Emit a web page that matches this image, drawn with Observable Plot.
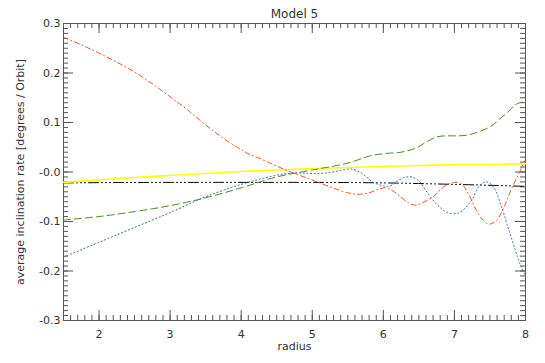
<!DOCTYPE html>
<html>
<head>
<meta charset="utf-8">
<script src="https://cdn.jsdelivr.net/npm/d3@7"></script>
<script src="https://cdn.jsdelivr.net/npm/@observablehq/plot@0.6"></script>
<style>
  body { margin: 0; background: #fff; }
  svg { font-family: "DejaVu Sans", sans-serif; }
</style>
</head>
<body>
<div id="chart"></div>
<script>
// --- data ---
const titleText = "Model 5";
const xLabel = "radius";
const yLabel = "average inclination rate [degrees / Orbit]";
const xTicks = [2, 3, 4, 5, 6, 7, 8];
const yTicks = [-0.3, -0.2, -0.1, 0, 0.1, 0.2, 0.3];
const yTickLabels = ["-0.3", "-0.2", "-0.1", "-0.0", "0.1", "0.2", "0.3"];

const redR = [1.5,1.75,2.0,2.25,2.5,2.75,3.0,3.25,3.5,3.75,4.0,4.1,4.25,4.5,4.75,5.0,5.25,5.5,5.65,5.8,5.95,6.05,6.2,6.35,6.45,6.55,6.7,6.85,7.0,7.1,7.2,7.3,7.4,7.48,7.58,7.7,7.8,7.9,8.0];
const redV = [0.272,0.257,0.24,0.222,0.202,0.178,0.152,0.125,0.095,0.068,0.045,0.037,0.028,0.012,-0.003,-0.016,-0.03,-0.042,-0.045,-0.042,-0.034,-0.032,-0.045,-0.062,-0.067,-0.062,-0.05,-0.03,-0.021,-0.024,-0.045,-0.075,-0.097,-0.105,-0.1,-0.07,-0.035,-0.005,0.025];

const blueR = [1.5,2.0,2.5,3.0,3.5,4.0,4.3,4.6,4.8,5.0,5.2,5.4,5.55,5.7,5.85,6.0,6.1,6.2,6.3,6.4,6.5,6.6,6.75,6.9,7.05,7.15,7.25,7.35,7.45,7.55,7.65,7.75,7.85,7.92,8.0];
const blueV = [-0.172,-0.142,-0.112,-0.082,-0.05,-0.025,-0.013,-0.004,-0.002,-0.003,-0.002,0.003,0.006,-0.003,-0.02,-0.028,-0.028,-0.018,-0.011,-0.01,-0.018,-0.038,-0.065,-0.082,-0.083,-0.073,-0.055,-0.028,-0.02,-0.03,-0.065,-0.11,-0.155,-0.185,-0.21];

const greenR = [1.5,2.0,2.5,3.0,3.5,4.0,4.5,5.0,5.5,5.8,6.0,6.25,6.45,6.6,6.75,6.9,7.05,7.2,7.35,7.5,7.62,7.75,7.87,8.0];
const greenV = [-0.097,-0.09,-0.08,-0.068,-0.052,-0.032,-0.01,0.004,0.018,0.032,0.037,0.04,0.048,0.06,0.071,0.073,0.073,0.075,0.082,0.091,0.105,0.121,0.137,0.143];

const yellowR = [1.5,2.0,2.5,3.0,3.5,4.0,4.5,5.0,5.5,6.0,6.5,7.0,7.5,8.0];
const yellowV = [-0.021,-0.016,-0.011,-0.007,-0.003,0.001,0.004,0.007,0.009,0.011,0.013,0.015,0.015,0.017];

const blackR = [1.5,3.0,5.0,6.0,7.0,8.0];
const blackV = [-0.022,-0.021,-0.021,-0.022,-0.025,-0.029];

// --- build ---
const W = 545, H = 363;
const mL = 63, mR = 20, mT = 23, mB = 43;
const plotW = W - mL - mR, plotH = H - mT - mB;
const toPts = (rs, vs) => rs.map((r, i) => ({r, v: vs[i]}));
const minorX = d3.range(15, 81).map(i => i / 10);
const minorY = d3.range(-30, 31).map(i => i / 100);
const tickColor = "#555";
const textColor = "#333";
const minorLen = 5, majorLen = 10;

const chart = Plot.plot({
  width: W, height: H,
  marginLeft: mL, marginRight: mR, marginTop: mT, marginBottom: mB,
  style: {fontSize: "11px", color: textColor, background: "#fff"},
  x: {domain: [1.5, 8]},
  y: {domain: [-0.3, 0.3]},
  marks: [
    // minor/major ticks on all four sides (pointing inward)
    Plot.tickX(minorX, {x: d => d, insetTop: plotH - minorLen, stroke: tickColor}),
    Plot.tickX(minorX, {x: d => d, insetBottom: plotH - minorLen, stroke: tickColor}),
    Plot.tickX(xTicks, {x: d => d, insetTop: plotH - majorLen, stroke: tickColor}),
    Plot.tickX(xTicks, {x: d => d, insetBottom: plotH - majorLen, stroke: tickColor}),
    Plot.tickY(minorY, {y: d => d, insetRight: plotW - minorLen, stroke: tickColor}),
    Plot.tickY(minorY, {y: d => d, insetLeft: plotW - minorLen, stroke: tickColor}),
    Plot.tickY(yTicks, {y: d => d, insetRight: plotW - majorLen, stroke: tickColor}),
    Plot.tickY(yTicks, {y: d => d, insetLeft: plotW - majorLen, stroke: tickColor}),
    Plot.frame({stroke: tickColor}),
    Plot.axisX({ticks: xTicks, tickSize: 0, tickPadding: 10, tickFormat: d => String(d), label: null, fill: textColor}),
    Plot.axisY({ticks: yTicks, tickSize: 0, tickPadding: 3, tickFormat: d => yTickLabels[yTicks.indexOf(d)], label: null, fill: textColor}),
    // series
    Plot.line(toPts(blackR, blackV), {x: "r", y: "v", stroke: "#000", strokeWidth: 1, strokeDasharray: "10,3,1,3,1,3,1,3", curve: "monotone-x"}),
    Plot.line(toPts(yellowR, yellowV), {x: "r", y: "v", stroke: "#ffff00", strokeWidth: 1.6, curve: "monotone-x"}),
    Plot.line(toPts(greenR, greenV), {x: "r", y: "v", stroke: "#4b8b1e", strokeWidth: 1, strokeDasharray: "7,4", curve: "catmull-rom"}),
    Plot.line(toPts(blueR, blueV), {x: "r", y: "v", stroke: "#3a6ea5", strokeWidth: 1, strokeDasharray: "1.2,2.5", curve: "catmull-rom"}),
    Plot.line(toPts(redR, redV), {x: "r", y: "v", stroke: "#e05a2a", strokeWidth: 1, strokeDasharray: "5,3,1,3", curve: "catmull-rom"}),
    // texts
    Plot.text([titleText], {frameAnchor: "top", dy: -14, text: d => d, fontSize: 12, fill: textColor}),
    Plot.text([xLabel], {frameAnchor: "bottom", dy: 29, text: d => d, fontSize: 11, fill: textColor}),
    Plot.text([yLabel], {frameAnchor: "left", dx: -43, rotate: -90, textAnchor: "middle", text: d => d, fontSize: 11, fill: textColor})
  ]
});
document.getElementById("chart").appendChild(chart);
</script>
</body>
</html>
